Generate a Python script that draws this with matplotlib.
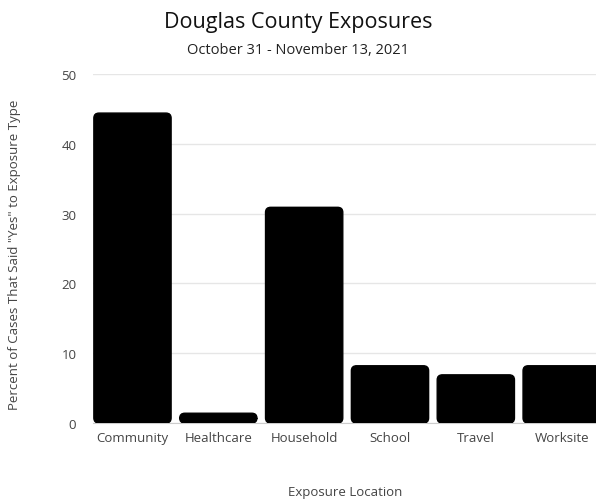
import numpy as np
import matplotlib.pyplot as plt
from matplotlib.patches import FancyBboxPatch

plt.rcParams['font.family'] = ['Open Sans', 'DejaVu Sans']

categories = ['Community', 'Healthcare', 'Household', 'School', 'Travel', 'Worksite']
percents = [44.4, 1.4, 30.9, 8.2, 6.9, 8.2]

fig = plt.figure(figsize=(5.96, 5.02), dpi=100)
ax = fig.add_axes([93/596, 78/502, 1 - 93/596, 349/502])

index = np.arange(len(categories))
bars = ax.bar(index, percents, width=0.9, color='black', zorder=3)
# swap plain bars for slightly rounded ones
for b in bars:
    b.set_visible(False)
    p = FancyBboxPatch((b.get_x(), 0), b.get_width(), b.get_height(),
                       boxstyle='round,pad=0,rounding_size=0.06',
                       mutation_aspect=12, color='black', zorder=3)
    ax.add_patch(p)

ax.set_xlim(-0.46, 5.4)
ax.set_ylim(0, 50)
ax.set_yticks([0, 10, 20, 30, 40, 50])
ax.set_xticks(index)
ax.set_xticklabels(categories)
ax.grid(axis='y', color='#e6e6e6', linewidth=1, zorder=0)
for s in ['top', 'right', 'left']:
    ax.spines[s].set_visible(False)
ax.spines['bottom'].set_color('#cccccc')
ax.tick_params(axis='both', length=0, labelsize=9.5, colors='#444444')
ax.tick_params(axis='y', pad=12)
ax.tick_params(axis='x', pad=6)

fig.text(0.5, 0.955, 'Douglas County Exposures', ha='center', va='center', fontsize=15.5, color='#111111')
fig.text(0.5, 0.9, 'October 31 - November 13, 2021', ha='center', va='center', fontsize=10.5, color='#222222')
fig.text(0.024, 0.492, 'Percent of Cases That Said "Yes" to Exposure Type', rotation=90,
         ha='center', va='center', fontsize=9.5, color='#444444')
fig.text(345/596, 1 - 493/502, 'Exposure Location', ha='center', va='center', fontsize=9.5, color='#444444')

plt.savefig('out.png', dpi=100)
